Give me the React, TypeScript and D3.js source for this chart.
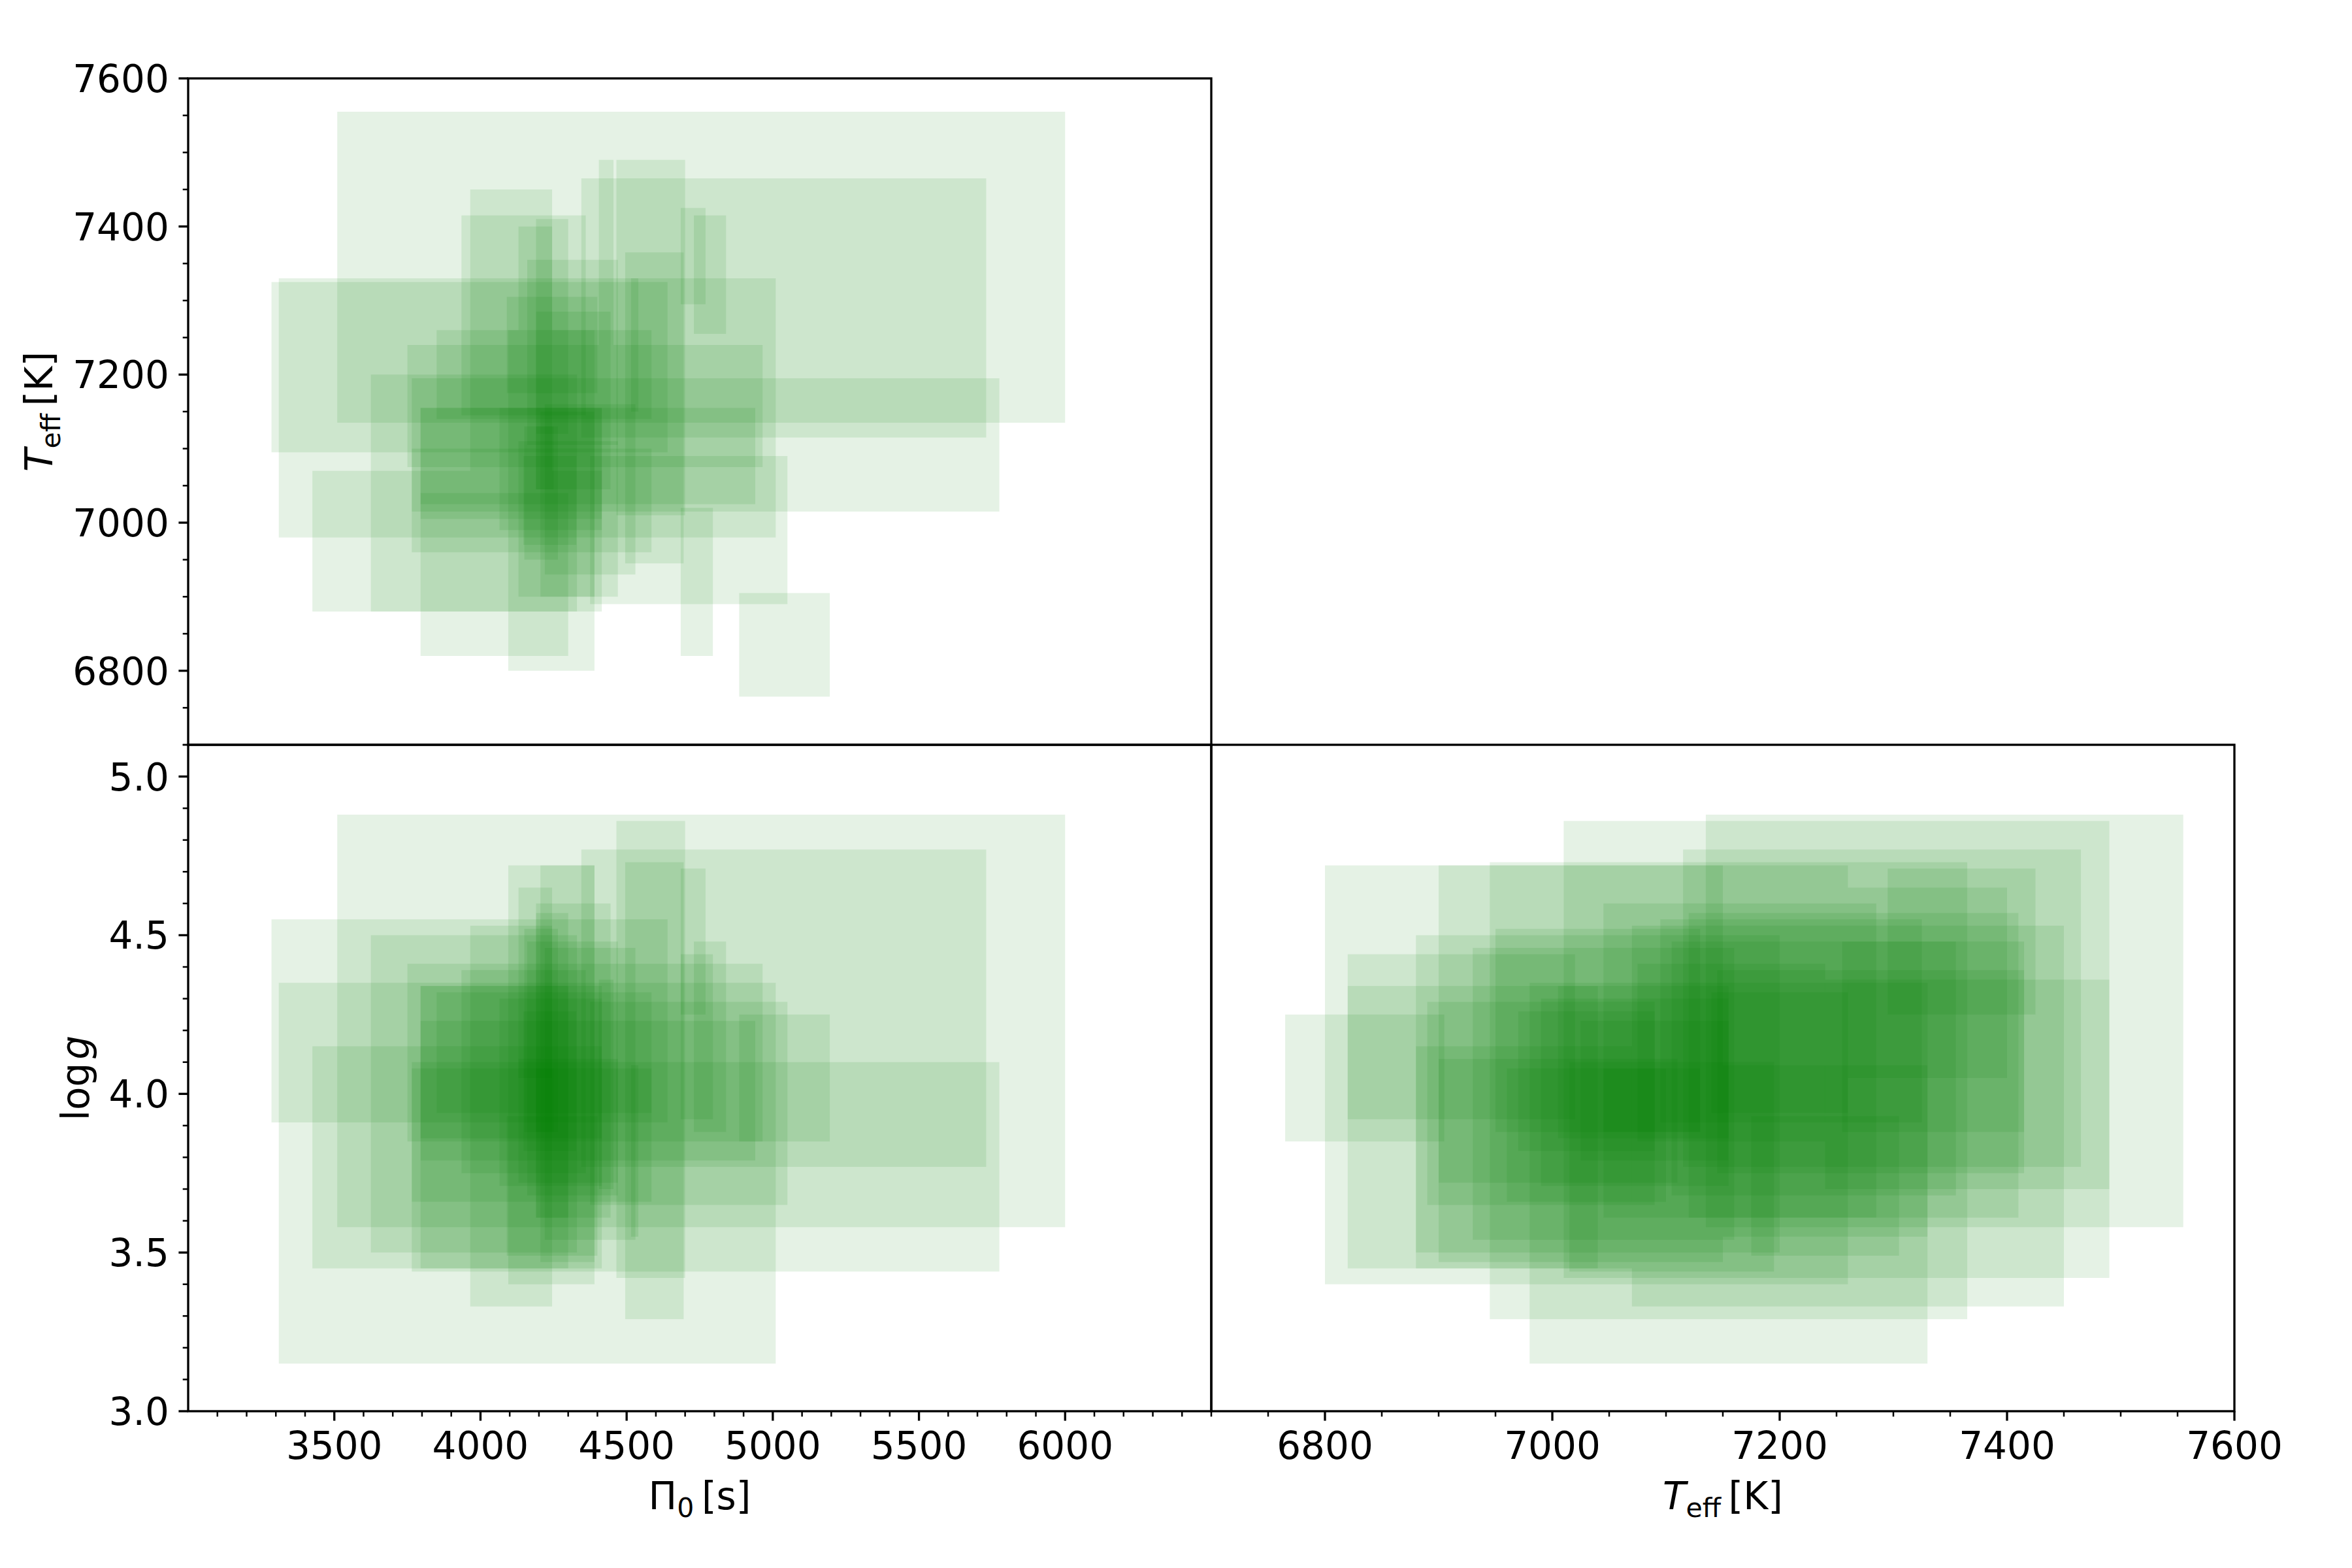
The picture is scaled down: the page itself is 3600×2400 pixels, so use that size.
import React from "react";
import * as d3 from "d3";

// one entry per star: lower / upper bound of each parameter
const pi0Lo = [3510, 4345, 4465, 4405, 3965, 3935, 4190, 4130, 4685, 4730, 4495, 4160, 3285, 3310, 4515, 4090, 4190, 3850, 3750, 3625, 3765, 3795, 4065, 4375, 3765, 3425, 3795, 4095, 4685, 4885, 4150, 4220, 4130, 4205, 3795, 4147, 4190];
const pi0Hi = [6000, 5730, 4700, 4455, 4245, 4360, 4300, 4245, 4770, 4840, 4695, 4470, 4640, 5010, 4540, 4400, 4445, 4585, 4965, 4330, 5775, 4940, 4415, 5050, 4585, 4415, 4300, 4390, 4795, 5195, 4265, 4530, 4470, 4390, 4415, 4328, 4250];
const teffLo = [7135, 7115, 7010, 7240, 7070, 7145, 7120, 7260, 7295, 7255, 6945, 7105, 7095, 6980, 7150, 7175, 7045, 7140, 7075, 6880, 7015, 7025, 6990, 6890, 6960, 6880, 6820, 6800, 6820, 6765, 6950, 6930, 6900, 6900, 7005, 6970, 7045];
const teffHi = [7555, 7465, 7490, 7490, 7450, 7415, 7410, 7400, 7425, 7415, 7365, 7355, 7325, 7330, 7330, 7305, 7285, 7260, 7240, 7200, 7195, 7155, 7155, 7090, 7100, 7070, 7040, 7260, 7020, 6905, 7130, 7160, 7110, 7150, 7155, 7090, 7130];
const loggLo = [3.58, 3.77, 3.42, 3.70, 3.33, 3.75, 3.61, 4.05, 4.25, 3.88, 3.29, 3.68, 3.91, 3.15, 3.55, 3.49, 3.61, 3.94, 3.85, 3.50, 3.44, 3.79, 3.71, 3.65, 3.66, 3.45, 3.45, 3.40, 3.92, 3.85, 3.88, 3.54, 3.72, 3.47, 3.86, 3.82, 3.88];
const loggHi = [4.88, 4.77, 4.86, 4.36, 4.53, 4.39, 4.57, 4.65, 4.71, 4.48, 4.73, 4.48, 4.55, 4.35, 4.09, 3.93, 4.60, 4.32, 4.41, 4.50, 4.10, 4.23, 4.30, 4.29, 4.08, 4.15, 4.34, 4.72, 4.44, 4.25, 4.52, 4.46, 4.11, 4.72, 4.34, 4.26, 4.08];

const pi0Major = [3500, 4000, 4500, 5000, 5500, 6000];
const teffMajor = [6800, 7000, 7200, 7400, 7600];
const loggMajor = [3.0, 3.5, 4.0, 4.5, 5.0];

const W = 3600, H = 2400;
const L = 288, R = 3420, T = 120, B = 2160, MX = 1854, MY = 1140;
const FONT = "DejaVu Sans";
const FS = 58;
const MAJ = 14.6, MIN = 8.3, PAD = 14.6;

const xPi = d3.scaleLinear().domain([3000, 6500]).range([L, MX]);
const yTeff = d3.scaleLinear().domain([6700, 7600]).range([MY, T]);
const yLogg = d3.scaleLinear().domain([3.0, 5.1]).range([B, MY]);
const xTeff = d3.scaleLinear().domain([6700, 7600]).range([MX, R]);

const pi0Minor = d3.range(3100, 6500, 100).filter((v) => v % 500 !== 0);
const teffMinor = d3.range(6700, 7600, 50).filter((v) => v % 200 !== 0);
const loggMinor = d3.range(31, 52, 1).filter((v) => v % 5 !== 0).map((v) => v / 10);

const stars = d3.range(pi0Lo.length);
const boxStyle = { fill: "green", fillOpacity: 0.1 };

const Boxes = ({ x0, x1, y0, y1, sx, sy }) => (
  <g>
    {stars.map((i) => (
      <rect
        key={i}
        x={sx(x0[i])}
        y={sy(y1[i])}
        width={sx(x1[i]) - sx(x0[i])}
        height={sy(y0[i]) - sy(y1[i])}
        style={boxStyle}
      />
    ))}
  </g>
);

const XTicks = ({ scale, major, minor, fmt }) => (
  <g>
    {minor.map((v) => (
      <line key={"m" + v} x1={scale(v)} x2={scale(v)} y1={B} y2={B + MIN} stroke="black" strokeWidth={2.5} />
    ))}
    {major.map((v) => (
      <g key={v}>
        <line x1={scale(v)} x2={scale(v)} y1={B} y2={B + MAJ} stroke="black" strokeWidth={3.33} />
        <text x={scale(v)} y={2233} textAnchor="middle" fontSize={FS} fontFamily={FONT}>{fmt(v)}</text>
      </g>
    ))}
  </g>
);

const YTicks = ({ scale, major, minor, fmt }) => (
  <g>
    {minor.map((v) => (
      <line key={"m" + v} x1={L - MIN} x2={L} y1={scale(v)} y2={scale(v)} stroke="black" strokeWidth={2.5} />
    ))}
    {major.map((v) => (
      <g key={v}>
        <line x1={L - MAJ} x2={L} y1={scale(v)} y2={scale(v)} stroke="black" strokeWidth={3.33} />
        <text x={L - MAJ - PAD} y={scale(v) + 21} textAnchor="end" fontSize={FS} fontFamily={FONT}>{fmt(v)}</text>
      </g>
    ))}
  </g>
);

const TeffLabel = () => (
  <>
    <tspan fontStyle="italic">T</tspan>
    <tspan fontSize={41} dy={12}>eff</tspan>
    <tspan dy={-12}>{"\u2009[K]"}</tspan>
  </>
);

export default function App() {
  return (
    <svg width={W} height={H} style={{ position: "absolute", left: 0, top: 0, background: "white" }}>
      <rect width={W} height={H} fill="white" />

      <Boxes x0={pi0Lo} x1={pi0Hi} y0={teffLo} y1={teffHi} sx={xPi} sy={yTeff} />
      <Boxes x0={pi0Lo} x1={pi0Hi} y0={loggLo} y1={loggHi} sx={xPi} sy={yLogg} />
      <Boxes x0={teffLo} x1={teffHi} y0={loggLo} y1={loggHi} sx={xTeff} sy={yLogg} />

      {/* frames */}
      <g fill="none" stroke="black" strokeWidth={3.33}>
        <rect x={L} y={T} width={MX - L} height={MY - T} />
        <rect x={L} y={MY} width={MX - L} height={B - MY} />
        <rect x={MX} y={MY} width={R - MX} height={B - MY} />
      </g>

      <YTicks scale={yTeff} major={teffMajor} minor={teffMinor} fmt={(v) => String(v)} />
      <YTicks scale={yLogg} major={loggMajor} minor={loggMinor} fmt={(v) => v.toFixed(1)} />
      <XTicks scale={xPi} major={pi0Major} minor={pi0Minor} fmt={(v) => String(v)} />
      <XTicks scale={xTeff} major={teffMajor} minor={teffMinor} fmt={(v) => String(v)} />

      {/* axis labels */}
      <text x={(L + MX) / 2} y={2310} textAnchor="middle" fontSize={FS} fontFamily={FONT}>
        <tspan>Π</tspan>
        <tspan fontSize={41} dy={12}>0</tspan>
        <tspan dy={-12}>{"\u2009[s]"}</tspan>
      </text>
      <text x={(MX + R) / 2} y={2310} textAnchor="middle" fontSize={FS} fontFamily={FONT}>
        <TeffLabel />
      </text>
      <text transform={`translate(80,${(T + MY) / 2}) rotate(-90)`} textAnchor="middle" fontSize={FS} fontFamily={FONT}>
        <TeffLabel />
      </text>
      <text transform={`translate(136,${(MY + B) / 2}) rotate(-90)`} textAnchor="middle" fontSize={FS} fontFamily={FONT}>
        <tspan>log</tspan>
        <tspan fontStyle="italic" dx={5}>g</tspan>
      </text>
    </svg>
  );
}
